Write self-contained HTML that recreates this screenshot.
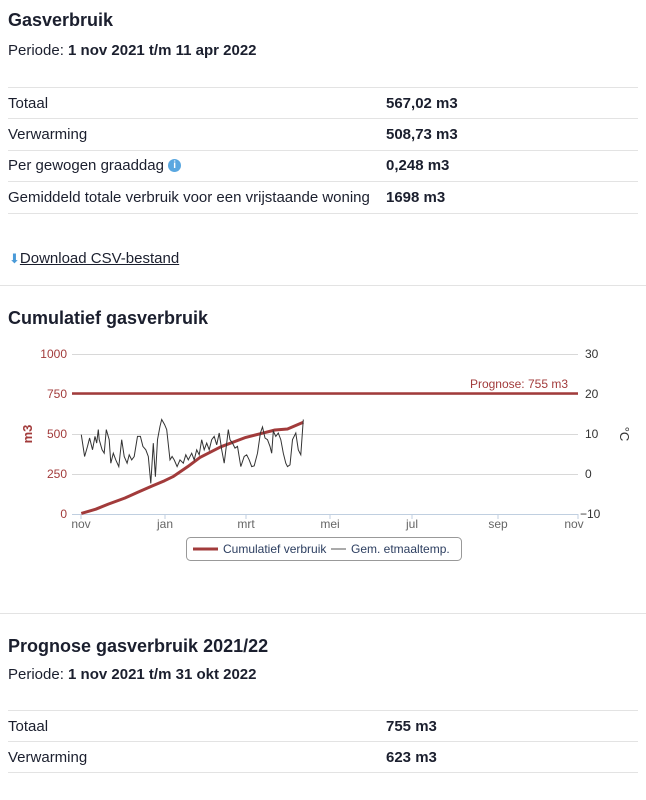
<!DOCTYPE html>
<html><head><meta charset="utf-8"><style>
body{margin:0;width:646px;height:800px;background:#fff;font-family:"Liberation Sans",sans-serif;color:#1b1f2e;position:relative;overflow:hidden}
.a{position:absolute;white-space:nowrap}
.t{font-size:15px}
.ln{position:absolute;left:8px;width:630px;height:1px;background:#e3e3e3}
b{font-weight:bold}
</style></head><body>
<div class="a" style="left:8px;top:10px;font-size:18px;font-weight:bold">Gasverbruik</div>
<div class="a t" style="left:8px;top:42px">Periode: <b>1 nov 2021 t/m 11 apr 2022</b></div>
<div class="ln" style="top:87px"></div>
<div class="a t" style="left:8px;top:95px">Totaal</div><div class="a t" style="left:386px;top:95px"><b>567,02 m3</b></div>
<div class="ln" style="top:118px"></div>
<div class="a t" style="left:8px;top:126px">Verwarming</div><div class="a t" style="left:386px;top:126px"><b>508,73 m3</b></div>
<div class="ln" style="top:150px"></div>
<div class="a t" style="left:8px;top:157px">Per gewogen graaddag <span style="display:inline-block;width:13px;height:13px;border-radius:50%;background:#5aa7e0;color:#fff;font-size:10px;text-align:center;line-height:13px;font-weight:bold;vertical-align:2px">i</span></div><div class="a t" style="left:386px;top:157px"><b>0,248 m3</b></div>
<div class="ln" style="top:181px"></div>
<div class="a t" style="left:8px;top:189px">Gemiddeld totale verbruik voor een vrijstaande woning</div><div class="a t" style="left:386px;top:189px"><b>1698 m3</b></div>
<div class="ln" style="top:213px"></div>
<div class="a t" style="left:9px;top:250px"><span style="color:#4a9ad8;font-size:13px">⬇</span><u>Download CSV-bestand</u></div>
<div style="position:absolute;left:0;top:285px;width:646px;height:1px;background:#e3e3e3"></div>
<div class="a" style="left:8px;top:308px;font-size:18px;font-weight:bold">Cumulatief gasverbruik</div>
<svg class="a" style="left:0;top:340px" width="646" height="230" viewBox="0 340 646 230" font-family="Liberation Sans,sans-serif" font-size="12">
<g stroke="#d8d8d8" stroke-width="1">
<line x1="72" x2="578" y1="354.5" y2="354.5"/><line x1="72" x2="578" y1="394.5" y2="394.5"/><line x1="72" x2="578" y1="434.5" y2="434.5"/><line x1="72" x2="578" y1="474.5" y2="474.5"/></g>
<line x1="72" x2="578" y1="514.5" y2="514.5" stroke="#c0cfe0"/>
<g stroke="#c0cfe0"><line x1="81" x2="81" y1="514" y2="519"/><line x1="165" x2="165" y1="514" y2="519"/><line x1="246" x2="246" y1="514" y2="519"/><line x1="330" x2="330" y1="514" y2="519"/><line x1="412" x2="412" y1="514" y2="519"/><line x1="498" x2="498" y1="514" y2="519"/><line x1="578" x2="578" y1="514" y2="519"/></g>
<g fill="#a23b3b" text-anchor="end"><text x="67" y="358">1000</text><text x="67" y="398">750</text><text x="67" y="438">500</text><text x="67" y="478">250</text><text x="67" y="518">0</text></g>
<text x="32" y="434" fill="#a23b3b" font-size="13" font-weight="bold" transform="rotate(-90 32 434)" text-anchor="middle">m3</text>
<g fill="#333" text-anchor="start"><text x="585" y="358">30</text><text x="585" y="398">20</text><text x="585" y="438">10</text><text x="585" y="478">0</text><text x="580" y="518">−10</text></g>
<text x="620" y="434" fill="#333" font-size="13" transform="rotate(90 620 434)" text-anchor="middle">°C</text>
<g fill="#666" text-anchor="middle"><text x="81" y="528">nov</text><text x="165" y="528">jan</text><text x="246" y="528">mrt</text><text x="330" y="528">mei</text><text x="412" y="528">jul</text><text x="498" y="528">sep</text><text x="574" y="528">nov</text></g>
<line x1="72" x2="578" y1="393.5" y2="393.5" stroke="#a23b3b" stroke-width="2.5"/>
<text x="568" y="388" fill="#a23b3b" text-anchor="end" font-size="12">Prognose: 755 m3</text>
<polyline id="cum" fill="none" stroke="#a23b3b" stroke-width="3" stroke-linejoin="round"/>
<polyline id="tmp" fill="none" stroke="#333" stroke-width="1"/>
<rect x="186.5" y="537.5" width="275" height="23" rx="4" fill="#fff" stroke="#999"/>
<line x1="193" x2="218" y1="549" y2="549" stroke="#a23b3b" stroke-width="3"/>
<text x="223" y="553" fill="#2c3e60" font-size="12">Cumulatief verbruik</text>
<line x1="331" x2="346" y1="549" y2="549" stroke="#555" stroke-width="1"/>
<text x="351" y="553" fill="#2c3e60" font-size="12">Gem. etmaaltemp.</text>
</svg>
<div style="position:absolute;left:0;top:613px;width:646px;height:1px;background:#e3e3e3"></div>
<div class="a" style="left:8px;top:636px;font-size:18px;font-weight:bold">Prognose gasverbruik 2021/22</div>
<div class="a t" style="left:8px;top:666px">Periode: <b>1 nov 2021 t/m 31 okt 2022</b></div>
<div class="ln" style="top:710px"></div>
<div class="a t" style="left:8px;top:718px">Totaal</div><div class="a t" style="left:386px;top:718px"><b>755 m3</b></div>
<div class="ln" style="top:741px"></div>
<div class="a t" style="left:8px;top:749px">Verwarming</div><div class="a t" style="left:386px;top:749px"><b>623 m3</b></div>
<div class="ln" style="top:772px"></div>
<script>
var c=[[195,4],[230,30],[260,62],[300,100],[330,135],[365,175],[395,208],[415,233],[450,295],[480,354],[530,420],[590,479],[630,505],[660,525],[690,531],[728,573]];
document.getElementById('cum').setAttribute('points',c.map(p=>(p[0]/2.4).toFixed(1)+','+(514-p[1]*0.16).toFixed(1)).join(' '));
var t=[195,285,203,350,210,320,215,295,222,330,228,290,232,310,236,270,238,300,245,330,250,340,255,270,262,300,266,370,272,340,278,360,285,380,292,300,298,350,305,370,310,345,316,360,322,350,330,290,337,290,343,320,350,330,356,350,362,430,368,310,373,410,378,300,384,260,388,240,395,255,400,270,408,360,413,350,418,360,425,380,432,360,440,370,446,345,452,360,460,340,466,360,472,330,478,345,484,300,490,330,496,310,502,330,508,300,514,290,520,315,526,280,532,330,538,370,544,310,548,270,552,300,558,310,564,325,570,320,578,380,586,350,592,345,598,360,604,380,610,378,618,340,625,280,630,262,636,295,642,300,648,320,652,340,656,275,662,290,668,280,674,300,680,340,686,370,690,380,696,375,702,300,710,280,716,330,722,345,728,240];
var s=[];for(var i=0;i<t.length;i+=2){s.push((t[i]/2.4).toFixed(1)+','+(474-4*(402-t[i+1])/11.9).toFixed(1));}
document.getElementById('tmp').setAttribute('points',s.join(' '));
</script>
</body></html>
